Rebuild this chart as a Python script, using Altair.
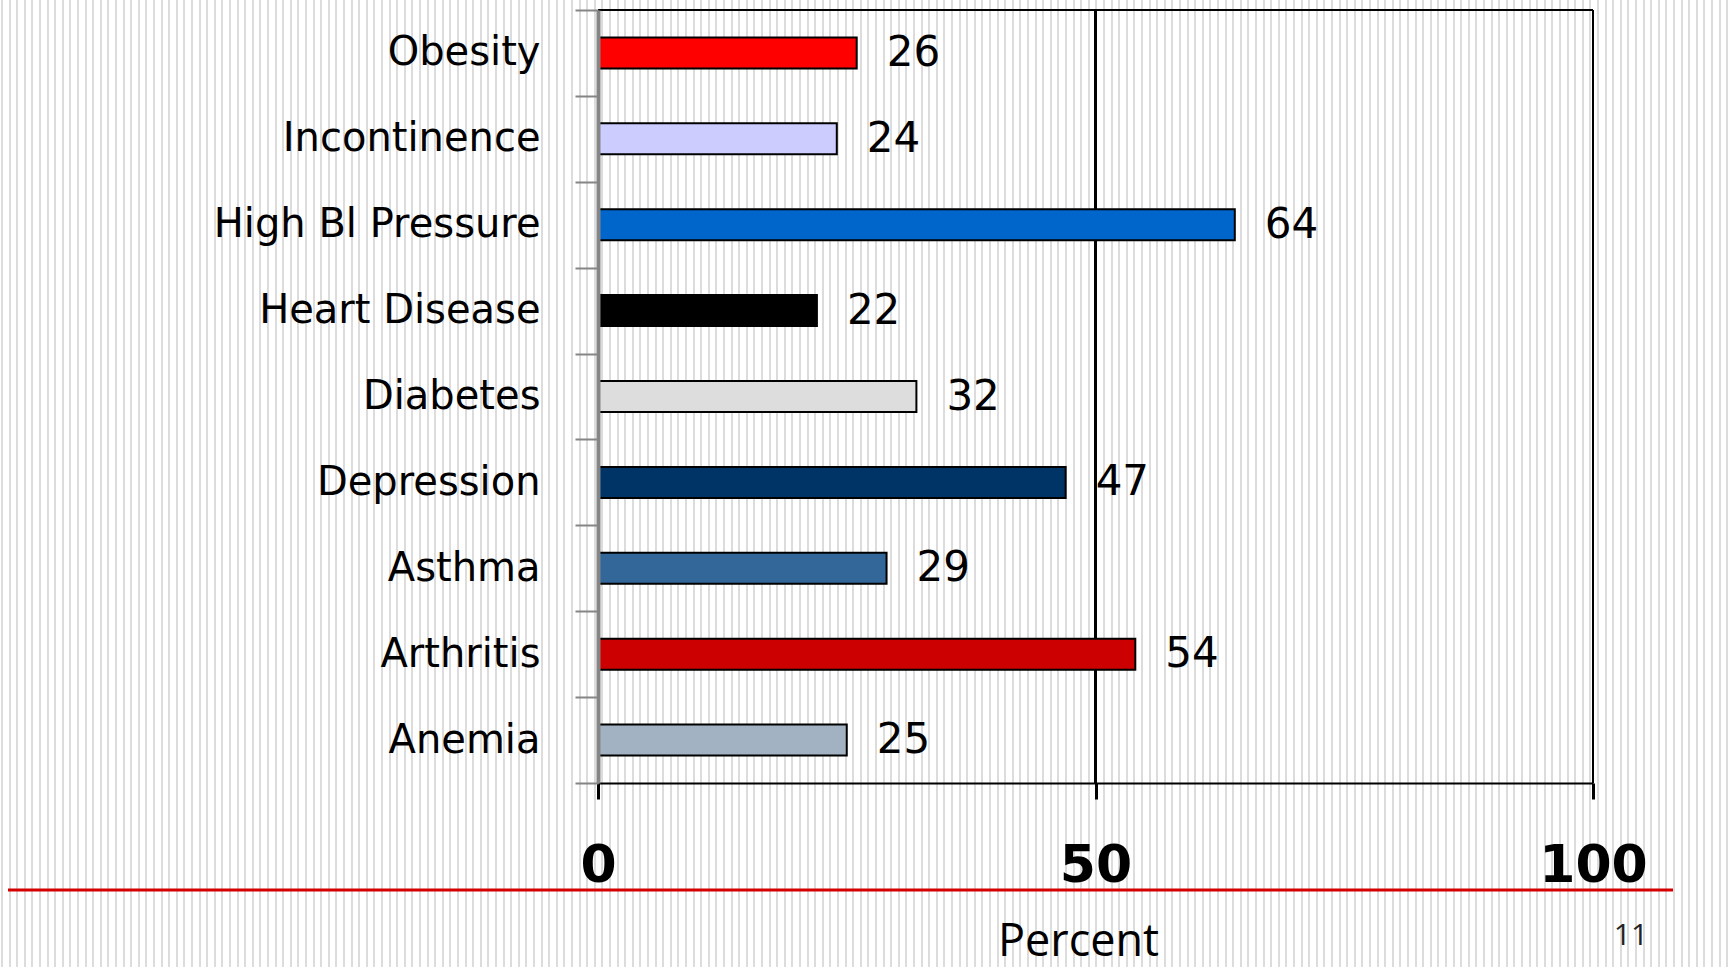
import altair as alt
import pandas as pd

# ---------------- data ----------------
categories = ["Obesity", "Incontinence", "High Bl Pressure", "Heart Disease",
              "Diabetes", "Depression", "Asthma", "Arthritis", "Anemia"]
values = [26, 24, 64, 22, 32, 47, 29, 54, 25]
bar_colors = ["#ff0000", "#ccccff", "#0066cc", "#000000", "#dddddd",
              "#003366", "#336699", "#cc0000", "#a2b2c2"]
x_ticks = [0, 50, 100]
x_title = "Percent"
page_number = "11"

# ---------------- layout ----------------
W, H = 1729, 967
LEFT, TOP = 598, 10
PW, PH = 995, 773

df = pd.DataFrame({"category": categories, "value": values})
one = pd.DataFrame({"k": [0]})

# striped slide background as a linear gradient (decoration only)
period, sw = 7.6, 2.0
stops = [alt.GradientStop(color="#ffffff", offset=0)]
xpos = 1.0
while xpos + sw < W:
    a, b = xpos / W, (xpos + sw) / W
    stops += [alt.GradientStop(color="#ffffff", offset=a),
              alt.GradientStop(color="#dcdcdc", offset=a),
              alt.GradientStop(color="#dcdcdc", offset=b),
              alt.GradientStop(color="#ffffff", offset=b)]
    xpos += period
stops.append(alt.GradientStop(color="#ffffff", offset=1))
stripes = alt.LinearGradient(gradient="linear", stops=stops, x1=0, x2=1, y1=0, y2=0)

bg = alt.Chart(one).mark_rect(fill=stripes).encode(
    x=alt.value(-LEFT), x2=alt.value(W - LEFT),
    y=alt.value(-TOP), y2=alt.value(H - TOP),
)

x_axis = alt.Axis(
    values=x_ticks, format="d", title=x_title, grid=False,
    domainColor="black", domainWidth=2,
    tickColor="black", tickWidth=3, tickSize=16,
    labelFont="DejaVu Sans", labelFontSize=52, labelFontWeight="bold",
    labelColor="black", labelPadding=41, labelFlush=False, labelOverlap=False,
    titleFont="Open Sans", titleFontSize=45, titleFontWeight="normal",
    titleColor="black", titleX=480, titleY=172, titleAlign="center",
    titleBaseline="alphabetic", zindex=1,
)
x_scale = alt.Scale(domain=[0, 100], nice=False)

X = alt.X("value:Q", scale=x_scale, axis=x_axis)
Y = alt.Y(
    "category:N",
    sort=categories,
    scale=alt.Scale(paddingInner=0, paddingOuter=0),
    axis=alt.Axis(
        title=None, grid=False,
        domainColor="#858585", domainWidth=4,
        tickColor="#858585", tickWidth=2, tickSize=23, tickBand="extent",
        labelFont="DejaVu Sans", labelFontSize=40, labelColor="black",
        labelPadding=35, labelLimit=700, zindex=1,
    ),
)

bars = alt.Chart(df).mark_bar(size=31, stroke="black", strokeWidth=2).encode(
    x=X, y=Y,
    color=alt.Color("category:N", scale=alt.Scale(domain=categories, range=bar_colors), legend=None),
)

labels = alt.Chart(df).mark_text(
    align="left", baseline="middle", dx=30, font="DejaVu Sans", fontSize=42, color="black"
).encode(x=X, y=Y, text=alt.Text("value:Q"))

rule50 = alt.Chart(one).mark_rule(color="black", strokeWidth=3).encode(
    x=alt.XDatum(50, type="quantitative", scale=x_scale, axis=x_axis))
right_border = alt.Chart(one).mark_rule(color="black", strokeWidth=2).encode(
    x=alt.XDatum(100, type="quantitative", scale=x_scale, axis=x_axis))
top_border = alt.Chart(one).mark_rule(color="black", strokeWidth=2).encode(
    y=alt.value(0))

red_line = alt.Chart(one).mark_rule(color="#d40000", strokeWidth=3).encode(
    x=alt.value(8 - LEFT), x2=alt.value(1673 - LEFT), y=alt.value(890 - TOP))

page = alt.Chart(one).mark_text(
    font="Open Sans", fontSize=30, align="center", baseline="alphabetic", color="#222222"
).encode(x=alt.value(1631 - LEFT), y=alt.value(945 - TOP), text=alt.value(page_number))

chart = alt.layer(
    bg, red_line, page, rule50, right_border, top_border, bars, labels
).properties(
    width=PW, height=PH,
    padding={"left": LEFT, "top": TOP, "right": W - LEFT - PW, "bottom": H - TOP - PH},
    autosize=alt.AutoSizeParams(type="none"),
    background="white",
).configure_view(strokeWidth=0)

chart.save("out.html", embed_options={"renderer": "svg", "actions": False})
